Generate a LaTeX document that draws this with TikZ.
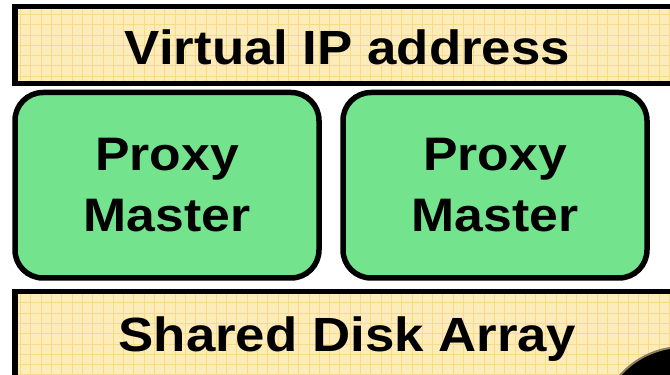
\documentclass[tikz,border=0pt]{standalone}
\usepackage{fontspec}
\setmainfont{Liberation Sans}[FakeStretch=1.1]
\definecolor{padfill}{RGB}{251,236,186}
\definecolor{padgrid}{RGB}{247,219,135}
\definecolor{proxyfill}{RGB}{115,227,141}
\definecolor{blobedge}{RGB}{140,125,95}
\tikzset{
  bigtext/.style={font=\bfseries\fontsize{48}{61}\selectfont, inner sep=0pt},
  padborder/.style={draw=black, line width=5.5pt},
  gridline/.style={draw=padgrid, line width=1pt},
  proxybox/.style={draw=black, line width=5.5pt, fill=proxyfill, rounded corners=28pt,
    font=\bfseries\fontsize{47}{61}\selectfont, align=center, inner sep=0pt},
}
\begin{document}
\begin{tikzpicture}[x=1pt,y=1pt]
\clip (0,0) rectangle (670,375);
\fill[white] (0,0) rectangle (670,375);
% top pad
\begin{scope}
  \clip (15,291.5) rectangle (690,368.5);
  \fill[padfill] (15,291.5) rectangle (690,368.5);
  \draw[gridline, step=10.3] (0,288) grid (690,372);
\end{scope}
\draw[padborder] (15,291.5) rectangle (690,368.5);
% bottom pad
\begin{scope}
  \clip (15,-20) rectangle (690,83.5);
  \fill[padfill] (15,-20) rectangle (690,83.5);
  \draw[gridline, step=10.3] (0,-20) grid (690,86);
\end{scope}
\draw[padborder] (15,-20) rectangle (690,83.5);
% texts in pads
\node[bigtext, anchor=base] (vip) at (347.5,310) {Virtual IP address};
\node[bigtext, anchor=base] (sda) at (347.5,23) {Shared Disk Array};
% proxy boxes
\node[proxybox, minimum width=304pt, minimum height=185.5pt] (pm1) at (167,189.75) {Proxy\\Master};
\node[proxybox, minimum width=304pt, minimum height=185.5pt] (pm2) at (495,189.75) {Proxy\\Master};
% blob at bottom right
\filldraw[fill=black, draw=blobedge, line width=2pt] (683,-56) circle (84);
\end{tikzpicture}
\end{document}
